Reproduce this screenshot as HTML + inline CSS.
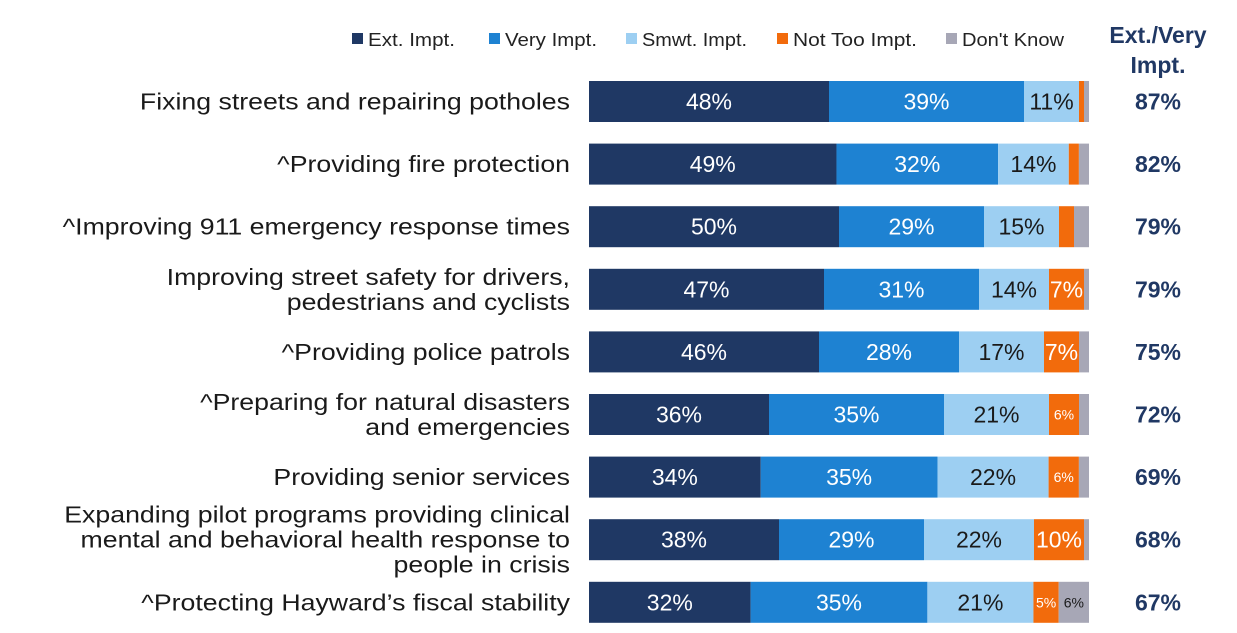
<!DOCTYPE html>
<html><head><meta charset="utf-8"><style>
body{margin:0;background:#fff;width:1237px;height:628px;overflow:hidden;font-family:"Liberation Sans",sans-serif}
</style></head><body>
<svg id="c" width="1237" height="628" xmlns="http://www.w3.org/2000/svg"></svg>
<script>
const categories=[["Fixing streets and repairing potholes"],["^Providing fire protection"],["^Improving 911 emergency response times"],["Improving street safety for drivers,","pedestrians and cyclists"],["^Providing police patrols"],["^Preparing for natural disasters","and emergencies"],["Providing senior services"],["Expanding pilot programs providing clinical","mental and behavioral health response to","people in crisis"],["^Protecting Hayward’s fiscal stability"]];
const extImpt=[48,49,50,47,46,36,34,38,32];
const veryImpt=[39,32,29,31,28,35,35,29,35];
const smwtImpt=[11,14,15,14,17,21,22,22,21];
const notTooImpt=[1,2,3,7,7,6,6,10,5];
const dontKnow=[1,2,3,1,2,2,2,1,6];
const totals=[87,82,79,79,75,72,69,68,67];
const seriesNames=["Ext. Impt.","Very Impt.","Smwt. Impt.","Not Too Impt.","Don't Know"];
const colors=["#1f3864","#1e82d2","#9dcff2","#f26b0c","#a7a7b6"];
const textCol=["#fff","#fff","#1a1a1a","#fff","#1a1a1a"];
const svg=document.getElementById('c');const NS="http://www.w3.org/2000/svg";
function mk(t,a,p){const e=document.createElementNS(NS,t);for(const k in a)e.setAttribute(k,a[k]);(p||svg).appendChild(e);return e;}
const x0=589,xW=500,y0=81,step=62.6,bh=41;
const yc=i=>y0+i*step;
const lx=[352,489,626,777,946];
const lw=[103,108,121,140,118];
seriesNames.forEach((n,i)=>{
 const r=mk('rect',{x:lx[i],y:33,width:11,height:11,fill:colors[i]});
 
 
 const t=mk('text',{x:lx[i]+16,y:46,'font-size':18,fill:'#222',textLength:lw[i]-16,lengthAdjust:'spacingAndGlyphs'});t.textContent=n;
 
 
});
const h1=mk('text',{x:1158,y:43,'font-size':23,'font-weight':'bold',fill:'#203864','text-anchor':'middle'});h1.textContent="Ext./Very";


const h2=mk('text',{x:1158,y:73,'font-size':23,'font-weight':'bold',fill:'#203864','text-anchor':'middle'});h2.textContent="Impt.";


const series=[extImpt,veryImpt,smwtImpt,notTooImpt,dontKnow];
categories.forEach((lines,i)=>{
 const y=yc(i),cy=y+bh/2;
 const n=lines.length;
 lines.forEach((l,j)=>{
  const t=mk('text',{x:570,y:cy+8+(j-(n-1)/2)*25,'font-size':23,fill:'#1a1a1a','text-anchor':'end'});t.textContent=l;
  const w=t.getComputedTextLength();
  t.setAttribute('textLength',w*1.16);
  t.setAttribute('lengthAdjust','spacingAndGlyphs');
  
  
 });
 const sum=series.reduce((a,s)=>a+s[i],0);
 const xs=v=>v*xW/sum;
 let cum=0;
 series.forEach((s,k)=>{
  const v=s[i];const x=x0+xs(cum),w=xs(v);
  const r=mk('rect',{x:x,y:y,width:w,height:bh,fill:colors[k]});
  
  
  const show=k<3||v>=5;
  if(show){
   const small=k>=3&&v<7;
   const t=mk('text',{x:x+w/2,y:cy+(small?5:8),'font-size':small?14:23,fill:textCol[k],'text-anchor':'middle'});
   t.textContent=v+'%';
   
   
  }
  cum+=v;
 });
 const t=mk('text',{x:1158,y:cy+8,'font-size':23,'font-weight':'bold',fill:'#203864','text-anchor':'middle'});t.textContent=totals[i]+'%';
 
 
});
</script>
</body></html>
